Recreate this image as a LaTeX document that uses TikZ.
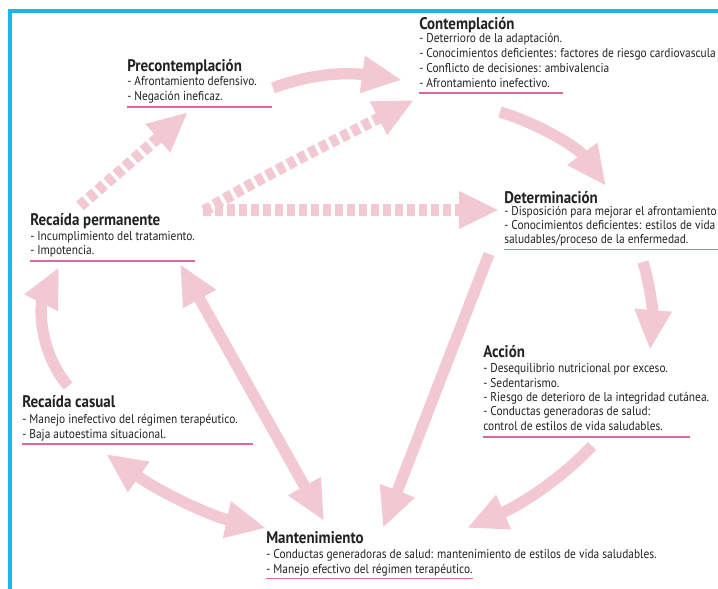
\documentclass[tikz,border=0pt]{standalone}
\usepackage{fontspec}
\setmainfont[FakeStretch=0.89]{PT Sans}
\usetikzlibrary{arrows.meta}
\definecolor{arr}{HTML}{F2C8D2}
\definecolor{ul}{HTML}{E0689E}
\definecolor{frame}{HTML}{1AB6EE}
\definecolor{txt}{HTML}{222222}
\tikzset{
  ttl/.style={anchor=base west, inner sep=0pt, text=txt, font=\bfseries\fontsize{12.6}{14}\selectfont},
  ln/.style={anchor=base west, inner sep=0pt, text=txt, font=\fontsize{9.6}{11}\selectfont},
  uline/.style={draw=ul, line width=1pt},
  bigarrow/.style={draw=arr, line width=8.5pt, -{Triangle[length=30pt,width=26pt,fill=arr]}},
  dblarrow/.style={draw=arr, line width=8.5pt, {Triangle[length=30pt,width=26pt,fill=arr]}-{Triangle[length=30pt,width=26pt,fill=arr]}},
  dotarrow/.style={bigarrow, dash pattern=on 6pt off 3pt},
}
\begin{document}
\begin{tikzpicture}[x=0.75pt,y=-0.75pt]
\useasboundingbox (0,0) rectangle (718,589);
\fill[white] (0,0) rectangle (718,589);
% frame
\draw[frame, line width=2.4pt] (8,11) -- (718,11);
\draw[frame, line width=2.4pt] (10,10) -- (10,589);
% connector end points
\coordinate (p1a) at (273,88);  \coordinate (p1b) at (402,80);
\coordinate (p2a) at (80,206);  \coordinate (p2b) at (188,112);
\coordinate (p3a) at (204,211); \coordinate (p3b) at (414,100);
\coordinate (p4a) at (203,210); \coordinate (p4b) at (499,210);
\coordinate (p5a) at (500,112); \coordinate (p5b) at (606,186);
\coordinate (p6a) at (643,262); \coordinate (p6b) at (650,350);
\coordinate (p7a) at (489,254); \coordinate (p7b) at (383,528);
\coordinate (p8a) at (592,446); \coordinate (p8b) at (467,528);
\coordinate (p9a) at (180,264); \coordinate (p9b) at (324,521);
\coordinate (p10a) at (106,454); \coordinate (p10b) at (266,528);
\coordinate (p11a) at (68,386); \coordinate (p11b) at (59,267);
% arrows
\draw[bigarrow] (p1a) .. controls (310,74) and (345,72) .. (p1b);
\draw[dotarrow] (p2a) -- (p2b);
\draw[dotarrow] (p3a) .. controls (270,172) and (340,138) .. (p3b);
\draw[dotarrow] (p4a) -- (p4b);
\draw[bigarrow] (p5a) .. controls (540,124) and (578,148) .. (p5b);
\draw[bigarrow] (p6a) .. controls (650,285) and (653,312) .. (p6b);
\draw[bigarrow] (p7a) -- (p7b);
\draw[bigarrow] (p8a) .. controls (560,480) and (520,505) .. (p8b);
\draw[dblarrow] (p9a) -- (p9b);
\draw[dblarrow] (p10a) .. controls (160,492) and (210,516) .. (p10b);
\draw[bigarrow] (p11a) .. controls (38,350) and (40,305) .. (p11b);
% Contemplación
\node[ttl] (con) at (419,29) {Contemplación};
\node[ln] (con1) at (419,42) {- Deterrioro de la adaptación.};
\node[ln] (con2) at (419,57) {- Conocimientos deficientes: factores de riesgo cardiovascula};
\node[ln] (con3) at (419,72) {- Conflicto de decisiones: ambivalencia};
\node[ln] (con4) at (419,87) {- Afrontamiento inefectivo.};
\draw[uline] (419,93) -- (563,93);
% Precontemplación
\node[ttl] (pre) at (127,71) {Precontemplación};
\node[ln] (pre1) at (127,85.5) {- Afrontamiento defensivo.};
\node[ln] (pre2) at (127,100.5) {- Negación ineficaz.};
\draw[uline] (127,107) -- (272,107);
% Recaída permanente
\node[ttl] (rp) at (30,225) {Recaída permanente};
\node[ln] (rp1) at (30,240) {- Incumplimiento del tratamiento.};
\node[ln] (rp2) at (30,254.5) {- Impotencia.};
\draw[uline] (30,261) -- (195,261);
% Determinación
\node[ttl] (det) at (504,203) {Determinación};
\node[ln] (det1) at (504,215) {- Disposición para mejorar el afrontamiento};
\node[ln] (det2) at (504,229) {- Conocimientos deficientes: estilos de vida};
\node[ln] (det3) at (504,243) {saludables/proceso de la enfermedad.};
\draw[uline] (504,249.5) -- (718,249.5);
% Acción
\node[ttl] (acc) at (483,357) {Acción};
\node[ln] (acc1) at (483,372) {- Desequilibrio nutricional por exceso.};
\node[ln] (acc2) at (483,387) {- Sedentarismo.};
\node[ln] (acc3) at (483,401) {- Riesgo de deterioro de la integridad cutánea.};
\node[ln] (acc4) at (483,415.5) {- Conductas generadoras de salud:};
\node[ln] (acc5) at (483,430) {control de estilos de vida saludables.};
\draw[uline] (483,437) -- (690,437);
% Recaída casual
\node[ttl] (rc) at (22,407) {Recaída casual};
\node[ln] (rc1) at (22,423) {- Manejo inefectivo del régimen terapéutico.};
\node[ln] (rc2) at (22,438) {- Baja autoestima situacional.};
\draw[uline] (22,444) -- (253,444);
% Mantenimiento
\node[ttl] (man) at (266,543) {Mantenimiento};
\node[ln] (man1) at (266,558) {- Conductas generadoras de salud: mantenimiento de estilos de vida saludables.};
\node[ln] (man2) at (266,573) {- Manejo efectivo del régimen terapéutico.};
\draw[uline] (266,578.5) -- (473,578.5);
\end{tikzpicture}
\end{document}
